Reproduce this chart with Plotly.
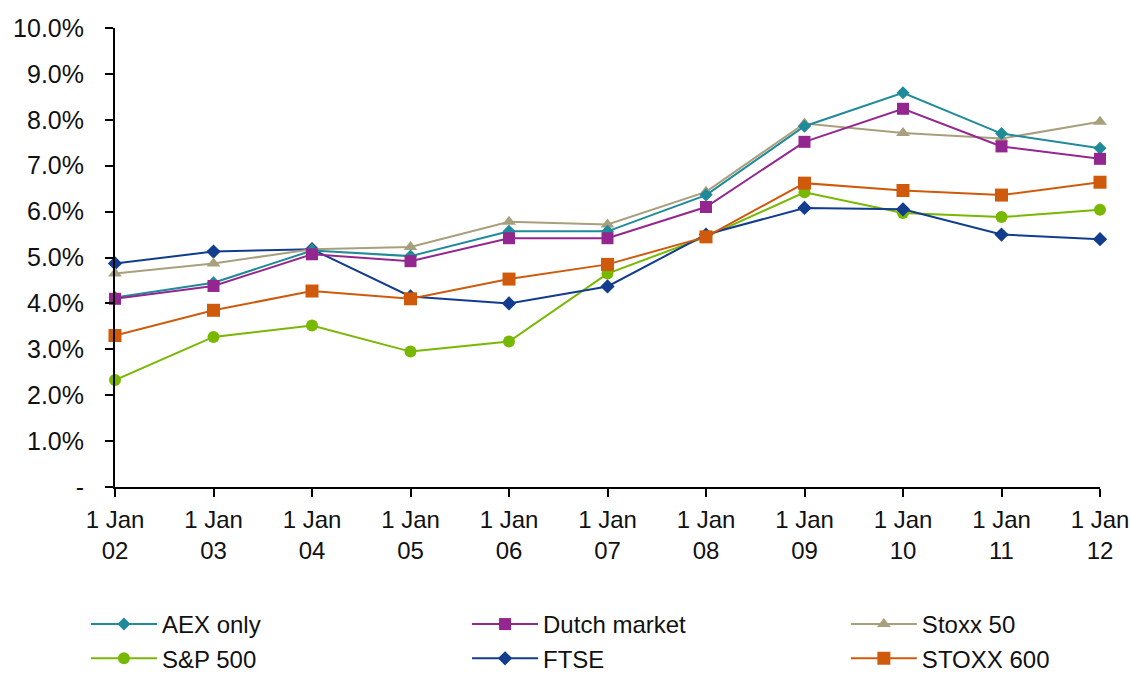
import plotly.graph_objects as go

# Dates (1 January of each year) along the x axis
years = ["02", "03", "04", "05", "06", "07", "08", "09", "10", "11", "12"]
x_labels = [f"1 Jan<br>{y}" for y in years]

# Yields per index, in percent
aex_only = [4.13, 4.45, 5.15, 5.03, 5.57, 5.57, 6.36, 7.86, 8.59, 7.70, 7.38]
dutch_market = [4.10, 4.38, 5.07, 4.92, 5.42, 5.42, 6.10, 7.52, 8.24, 7.42, 7.15]
stoxx_50 = [4.65, 4.87, 5.18, 5.23, 5.78, 5.72, 6.43, 7.92, 7.71, 7.59, 7.96]
sp_500 = [2.33, 3.27, 3.52, 2.95, 3.17, 4.65, 5.45, 6.42, 5.97, 5.88, 6.04]
ftse = [4.87, 5.13, 5.18, 4.15, 4.00, 4.37, 5.50, 6.08, 6.05, 5.50, 5.40]
stoxx_600 = [3.30, 3.85, 4.27, 4.10, 4.53, 4.85, 5.45, 6.62, 6.46, 6.36, 6.64]

y_ticks = [0, 1, 2, 3, 4, 5, 6, 7, 8, 9, 10]
y_tick_text = ["-"] + [f"{v:.1f}%" for v in y_ticks[1:]]

FONT = "Liberation Sans, Arial, sans-serif"

series = [
    # name, values, colour, symbol, size, legend column, row
    ("AEX only", aex_only, "#1E8A9A", "diamond", 10, "legend", 1),
    ("S&P 500", sp_500, "#78B800", "circle", 12, "legend", 2),
    ("Dutch market", dutch_market, "#93278F", "square", 12, "legend2", 1),
    ("FTSE", ftse, "#123C8E", "diamond", 11, "legend2", 2),
    ("Stoxx 50", stoxx_50, "#A89F7D", "triangle-up", 12, "legend3", 1),
    ("STOXX 600", stoxx_600, "#CF5A0C", "square", 13, "legend3", 2),
]

draw_order = ["S&P 500", "FTSE", "STOXX 600", "Stoxx 50", "AEX only", "Dutch market"]
by_name = {s[0]: s for s in series}

fig = go.Figure()
for name in draw_order:
    _, vals, color, symbol, size, leg, row = by_name[name]
    fig.add_trace(go.Scatter(
        x=x_labels, y=vals, name=name, mode="lines+markers",
        line=dict(color=color, width=2),
        marker=dict(color=color, symbol=symbol, size=size, line=dict(width=0)),
        cliponaxis=False, legend=leg, legendrank=row,
    ))

legend_common = dict(
    orientation="v", yanchor="top", xanchor="left",
    font=dict(family=FONT, size=24, color="#111"),
    bgcolor="rgba(0,0,0,0)", borderwidth=0, itemwidth=66,
    tracegroupgap=0, traceorder="normal",
)
legend_y = -0.2505

fig.update_layout(
    width=1130, height=674,
    margin=dict(l=115, r=30, t=28, b=187, autoexpand=False),
    paper_bgcolor="white", plot_bgcolor="white",
    font=dict(family=FONT, size=25, color="#111"),
    legend=dict(x=-0.0295, y=legend_y, **legend_common),
    legend2=dict(x=0.3574, y=legend_y, **legend_common),
    legend3=dict(x=0.742, y=legend_y, **legend_common),
    xaxis=dict(
        type="category", range=[0, 10],
        showline=True, linecolor="#000", linewidth=2,
        ticks="outside", ticklen=8, tickwidth=2, tickcolor="#000",
        showgrid=False, zeroline=False,
        tickfont=dict(family=FONT, size=24, color="#111"),
        ticklabelstandoff=2,
    ),
    yaxis=dict(
        range=[0, 10], tickvals=y_ticks, ticktext=y_tick_text,
        showline=True, linecolor="#000", linewidth=2,
        ticks="outside", ticklen=8, tickwidth=2, tickcolor="#000",
        showgrid=False, zeroline=False,
        tickfont=dict(family=FONT, size=25, color="#111"),
        ticklabelstandoff=16,
    ),
)

fig.write_html("out.html")
